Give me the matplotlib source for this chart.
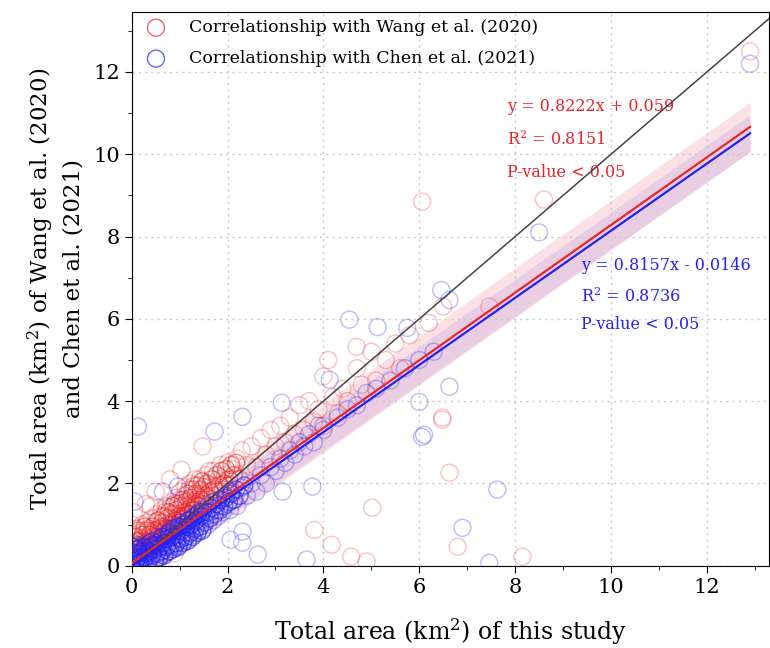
import numpy as np
import matplotlib
matplotlib.use('Agg')
from matplotlib import pyplot as plt
from matplotlib.ticker import MultipleLocator

plt.rcParams['font.family'] = ['DejaVu Serif']
plt.rcParams['mathtext.fontset'] = 'dejavuserif'

# Wang et al. (2020) vs this study
wang_x = [0.02, 0.05, 0.05, 0.1, 0.1, 0.12, 0.15, 0.15, 0.2, 0.2, 0.22, 0.25, 0.25, 0.3, 0.3,
          0.32, 0.35, 0.35, 0.4, 0.4, 0.42, 0.45, 0.5, 0.5, 0.52, 0.55, 0.6, 0.6, 0.62, 0.65,
          0.7, 0.7, 0.72, 0.75, 0.8, 0.8, 0.82, 0.85, 0.9, 0.9, 0.92, 0.95, 1.0, 1.0, 1.02,
          1.05, 1.1, 1.1, 1.12, 1.15, 1.2, 1.2, 1.22, 1.25, 1.3, 1.3, 1.32, 1.35, 1.4, 1.42,
          1.45, 1.5, 1.5, 1.55, 1.6, 1.62, 1.65, 1.7, 1.75, 1.8, 1.85, 1.9, 1.95, 2.0, 2.05,
          2.1, 2.2, 2.25, 2.3, 2.4, 2.5, 2.6, 2.7, 2.8, 2.9, 3.0, 3.1, 3.2, 3.3, 3.4,
          3.5, 3.6, 3.7, 3.8, 3.9, 4.0, 4.0, 4.1, 4.2, 4.3, 4.4, 4.5, 4.7, 4.8, 5.0,
          5.1, 5.3, 5.5, 5.6, 5.8, 6.2, 6.5,
          0.0, 0.05, 0.3, 0.5, 0.2, 0.6, 0.9, 1.04, 1.48, 0.4, 0.8,
          3.81, 4.17, 4.58, 4.9, 5.02, 6.48, 6.48, 6.63, 6.8, 8.15, 6.06, 7.46, 8.6, 12.9, 4.69]
wang_y = [0.2, 0.45, 0.75, 0.3, 0.6, 0.9, 0.5, 0.8, 0.35, 0.65, 1.0, 0.45, 0.85, 0.7, 0.35,
          1.05, 0.55, 0.9, 0.8, 0.5, 1.15, 0.7, 1.05, 0.55, 1.25, 0.8, 1.2, 0.7, 1.35, 0.95,
          0.75, 1.3, 1.45, 1.0, 0.85, 1.4, 1.55, 1.15, 0.95, 1.5, 1.65, 1.2, 1.05, 1.6, 1.8,
          1.3, 1.15, 1.7, 1.9, 1.45, 1.25, 1.85, 2.0, 1.5, 1.35, 1.95, 2.1, 1.6, 1.45, 2.1,
          1.75, 1.55, 1.9, 2.2, 1.65, 2.3, 1.95, 2.3, 1.8, 2.1, 2.45, 1.85, 2.2, 2.5, 1.95,
          2.35, 2.6, 2.1, 2.8, 2.45, 2.9, 2.4, 3.1, 2.7, 3.3, 2.9, 3.4, 3.0, 3.6, 3.2,
          3.9, 3.3, 4.0, 3.5, 3.8, 4.6, 3.4, 5.0, 4.1, 3.7, 4.3, 4.0, 4.8, 4.4, 5.2,
          4.5, 5.0, 5.4, 4.8, 5.6, 5.9, 6.3,
          1.0, 1.3, 1.5, 1.8, 0.0, 0.2, 0.3, 2.33, 2.9, 1.45, 2.1,
          0.87, 0.51, 0.22, 0.1, 1.41, 3.55, 3.6, 2.26, 0.46, 0.22, 8.85, 6.3, 8.9, 12.5, 5.32]

# the packed cloud near the origin
wang_dense_x = [0.03, 0.07, 0.08, 0.12, 0.13, 0.17, 0.18, 0.22, 0.23, 0.27, 0.28, 0.33, 0.33,
                0.37, 0.38, 0.43, 0.44, 0.47, 0.48, 0.53, 0.54, 0.57, 0.58, 0.63, 0.64, 0.67,
                0.68, 0.73, 0.74, 0.77, 0.78, 0.83, 0.84, 0.87, 0.88, 0.93, 0.94, 0.97, 0.98,
                1.03, 1.04, 1.07, 1.08, 1.13, 1.14, 1.17, 1.18, 1.23, 1.24, 1.27, 1.28, 1.33,
                1.34, 1.37, 1.38, 1.43, 1.44, 1.47, 1.48, 1.53, 1.57, 1.63, 1.67, 1.73, 1.77,
                1.83, 1.87, 1.93, 1.97, 2.03, 2.08, 2.13, 2.18]
wang_dense_y = [0.55, 0.25, 0.7, 0.4, 0.85, 0.6, 0.3, 0.5, 0.75, 0.95, 0.4, 0.6, 0.85,
                0.45, 0.75, 0.95, 0.6, 0.85, 0.5, 0.7, 1.1, 0.9, 0.6, 1.05, 0.8, 1.2,
                0.85, 0.9, 1.15, 1.3, 0.8, 1.0, 1.25, 1.45, 1.0, 1.1, 1.35, 1.5, 0.95,
                1.15, 1.45, 1.6, 1.2, 1.3, 1.55, 1.75, 1.25, 1.4, 1.65, 1.85, 1.35, 1.5,
                1.75, 1.95, 1.45, 1.6, 1.85, 2.05, 1.5, 1.7, 2.0, 1.8, 2.1, 1.85, 2.2,
                1.95, 2.3, 2.0, 2.35, 2.1, 2.45, 2.2, 2.5]

# Chen et al. (2021) vs this study
chen_x = [0.02, 0.05, 0.05, 0.08, 0.1, 0.1, 0.12, 0.15, 0.15, 0.18, 0.2, 0.2, 0.25, 0.28, 0.3,
          0.3, 0.32, 0.35, 0.4, 0.4, 0.42, 0.45, 0.5, 0.5, 0.52, 0.55, 0.6, 0.6, 0.62, 0.65,
          0.7, 0.7, 0.72, 0.75, 0.8, 0.8, 0.82, 0.85, 0.9, 0.9, 0.92, 0.95, 1.0, 1.0, 1.02,
          1.05, 1.1, 1.1, 1.12, 1.15, 1.2, 1.2, 1.22, 1.25, 1.3, 1.3, 1.32, 1.35, 1.4, 1.4,
          1.45, 1.5, 1.5, 1.55, 1.6, 1.6, 1.65, 1.7, 1.7, 1.75, 1.8, 1.8, 1.85, 1.9, 1.95,
          2.0, 2.05, 2.1, 2.15, 2.2, 2.3, 2.4, 2.5, 2.6, 2.7, 2.8, 2.9, 3.0, 3.1, 3.2,
          3.3, 3.4, 3.5, 3.6, 3.7, 3.8, 3.9, 4.0, 4.13, 4.3, 4.5, 4.7, 4.9, 5.1, 5.4,
          5.7, 6.0, 6.3,
          0.13, 1.73, 0.65, 0.96, 0.06, 2.31, 3.13, 6.0, 6.06, 3.77, 3.15, 2.31, 2.31, 2.63,
          3.65, 2.06, 4.54, 5.13, 6.46, 6.63, 6.63, 6.1, 7.63, 6.9, 7.46, 8.5, 12.9, 5.75]
chen_y = [0.05, 0.2, 0.4, 0.1, 0.3, 0.05, 0.5, 0.15, 0.35, 0.05, 0.25, 0.45, 0.1, 0.3, 0.5,
          0.15, 0.4, 0.25, 0.2, 0.45, 0.6, 0.3, 0.55, 0.15, 0.4, 0.65, 0.25, 0.6, 0.45, 0.75,
          0.3, 0.7, 0.55, 0.5, 0.35, 0.75, 0.9, 0.6, 0.45, 0.85, 0.7, 0.65, 0.5, 0.9, 1.05,
          0.75, 0.6, 1.0, 0.85, 0.8, 0.65, 1.1, 0.95, 0.9, 0.75, 1.2, 1.05, 1.0, 0.85, 1.3,
          1.1, 0.9, 1.35, 1.2, 1.0, 1.45, 1.3, 1.1, 1.55, 1.35, 1.2, 1.6, 1.45, 1.3, 1.7,
          1.5, 1.35, 1.8, 1.6, 1.45, 1.9, 1.7, 2.0, 1.8, 2.2, 2.0, 2.4, 2.3, 2.6, 2.5,
          2.8, 2.7, 3.0, 2.9, 3.2, 3.0, 3.4, 3.3, 4.52, 3.6, 3.8, 3.9, 4.2, 4.3, 4.5,
          4.8, 5.0, 5.2,
          3.38, 3.26, 1.8, 1.92, 1.56, 3.62, 3.96, 3.98, 3.13, 1.92, 1.8, 0.83, 0.56, 0.27,
          0.15, 0.63, 5.98, 5.8, 6.7, 6.46, 4.35, 3.18, 1.85, 0.92, 0.07, 8.1, 12.2, 5.78]

chen_dense_x = [0.03, 0.04, 0.07, 0.08, 0.12, 0.13, 0.17, 0.18, 0.22, 0.23, 0.27, 0.28, 0.33,
                0.34, 0.37, 0.38, 0.43, 0.44, 0.47, 0.48, 0.53, 0.54, 0.57, 0.58, 0.63, 0.64,
                0.67, 0.68, 0.73, 0.74, 0.77, 0.78, 0.83, 0.84, 0.87, 0.88, 0.93, 0.94, 0.97,
                0.98, 1.03, 1.04, 1.07, 1.08, 1.13, 1.14, 1.17, 1.18, 1.23, 1.24, 1.27, 1.28,
                1.33, 1.34, 1.37, 1.38, 1.43, 1.44, 1.47, 1.48, 1.53, 1.57, 1.63, 1.67, 1.73,
                1.77, 1.83, 1.87, 1.93, 1.97, 2.03, 2.08, 2.13, 2.18, 2.25, 2.35]
chen_dense_y = [0.15, 0.3, 0.45, 0.1, 0.2, 0.4, 0.3, 0.1, 0.2, 0.35, 0.45, 0.2, 0.3,
                0.05, 0.35, 0.55, 0.25, 0.5, 0.4, 0.1, 0.3, 0.5, 0.2, 0.45, 0.35, 0.7,
                0.55, 0.25, 0.45, 0.65, 0.35, 0.8, 0.5, 0.7, 0.4, 0.9, 0.55, 0.75, 0.45,
                0.95, 0.65, 0.85, 0.55, 1.0, 0.7, 0.95, 0.6, 1.1, 0.8, 1.0, 0.7, 1.15,
                0.9, 1.1, 0.8, 1.25, 0.95, 1.2, 0.85, 1.3, 1.05, 1.3, 1.15, 1.4, 1.25,
                1.5, 1.35, 1.6, 1.45, 1.65, 1.55, 1.75, 1.6, 1.85, 1.7, 1.95]

wang_fit = (0.8222, 0.059)
chen_fit = (0.8157, -0.0146)
fit_xmax = 12.9
wang_band = 0.6
chen_band = 0.45

red = '#e8262a'
blue = '#2222f5'

fig = plt.figure(figsize=(7.7, 6.48), dpi=100)
ax = fig.add_axes([0.171, 0.127, 0.828, 0.854])

for xx, yy, c, a, z in [(wang_x, wang_y, red, 0.28, 2), (wang_dense_x, wang_dense_y, red, 0.55, 2),
                        (chen_x, chen_y, blue, 0.3, 3), (chen_dense_x, chen_dense_y, blue, 0.6, 3)]:
    ax.scatter(xx, yy, s=150, facecolors='none', edgecolors=c, linewidths=1.0, alpha=a, zorder=z)

xs = np.linspace(0, fit_xmax, 50)
wy = wang_fit[0] * xs + wang_fit[1]
cy = chen_fit[0] * xs + chen_fit[1]
ax.fill_between(xs, wy - wang_band, wy + wang_band, color='#f7b5c0', alpha=0.4, lw=0, zorder=1)
ax.fill_between(xs, cy - chen_band, cy + chen_band, color='#c0a0e0', alpha=0.3, lw=0, zorder=1)
ax.plot(xs, wy, color=red, lw=1.6, zorder=5)
ax.plot(xs, cy, color=blue, lw=1.6, zorder=5)
ax.plot([0, 14], [0, 14], color='#444444', lw=1.1, zorder=4)

ax.set_xlim(0, 13.3)
ax.set_ylim(0, 13.45)
ax.xaxis.set_major_locator(MultipleLocator(2))
ax.xaxis.set_minor_locator(MultipleLocator(1))
ax.yaxis.set_major_locator(MultipleLocator(2))
ax.yaxis.set_minor_locator(MultipleLocator(1))
ax.tick_params(which='major', direction='out', length=5, labelsize=15)
ax.tick_params(which='minor', direction='out', length=3)
ax.grid(True, which='major', ls=(0, (1.5, 3)), color='#c8c8c8', lw=1)

ax.set_xlabel('Total area (km$^2$) of this study', fontsize=17, labelpad=14)
ax.set_ylabel('Total area (km$^2$) of Wang et al. (2020)\nand Chen et al. (2021)', fontsize=16.5,
              labelpad=6, linespacing=1.4)

ax.text(7.83, 11.15, 'y = 0.8222x + 0.059', color=red, fontsize=11.5, va='center')
ax.text(7.83, 10.35, 'R$^2$ = 0.8151', color=red, fontsize=11.5, va='center')
ax.text(7.83, 9.55, 'P-value < 0.05', color=red, fontsize=11.5, va='center')
ax.text(9.37, 7.29, 'y = 0.8157x - 0.0146', color=blue, fontsize=11.5, va='center')
ax.text(9.37, 6.54, 'R$^2$ = 0.8736', color=blue, fontsize=11.5, va='center')
ax.text(9.37, 5.86, 'P-value < 0.05', color=blue, fontsize=11.5, va='center')

ax.scatter([], [], s=150, facecolors='none', edgecolors=red, alpha=0.7,
           label='Correlationship with Wang et al. (2020)')
ax.scatter([], [], s=150, facecolors='none', edgecolors=blue, alpha=0.7,
           label='Correlationship with Chen et al. (2021)')
ax.legend(loc='upper left', frameon=False, fontsize=12.5, handletextpad=0.9,
          borderaxespad=0.0, labelspacing=0.8)

fig.savefig('out.png', dpi=100)
